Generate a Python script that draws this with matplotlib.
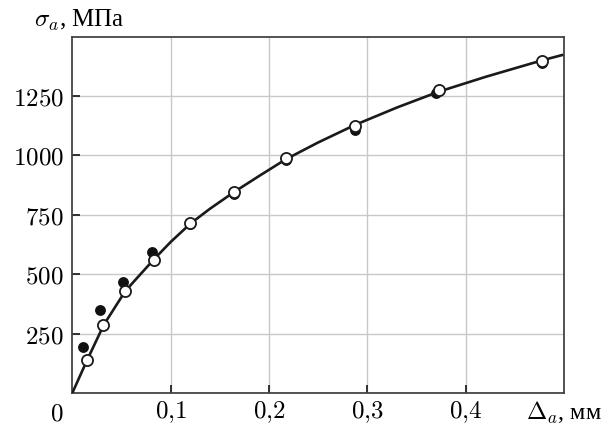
import matplotlib
matplotlib.use("Agg")
import matplotlib.pyplot as plt

# Data
curve_x = [0.0, 0.015, 0.032, 0.054, 0.083, 0.100, 0.120, 0.140, 0.164, 0.190,
           0.217, 0.250, 0.287, 0.330, 0.372, 0.420, 0.477, 0.499]
curve_y = [0, 138, 287, 430, 563, 636, 713, 776, 845, 914,
           984, 1055, 1128, 1202, 1268, 1331, 1400, 1424]

open_x = [0.0153, 0.0315, 0.0539, 0.0828, 0.1197, 0.1644, 0.2170, 0.2875, 0.3722, 0.4770]
open_y = [139, 287, 431, 562, 715, 846, 990, 1124, 1274, 1399]

filled_x = [0.0106, 0.0282, 0.0512, 0.0811, 0.1197, 0.1644, 0.2170, 0.2875, 0.3699, 0.4770]
filled_y = [194, 348, 469, 593, 712, 836, 982, 1107, 1263, 1390]

x_ticks = [0.1, 0.2, 0.3, 0.4, 0.5]
x_tick_labels = [r"$0{,}1$", r"$0{,}2$", r"$0{,}3$", r"$0{,}4$", r"$\Delta_a$, мм"]
y_ticks = [250, 500, 750, 1000, 1250]
y_tick_labels = ["$250$", "$500$", "$750$", "$1000$", "$1250$"]

plt.rcParams["mathtext.fontset"] = "cm"
plt.rcParams["font.family"] = ["Liberation Serif", "DejaVu Serif"]

fig = plt.figure(figsize=(6.07, 4.27), dpi=100)
ax = fig.add_axes([72.3 / 607, 33 / 427, (564.3 - 72.3) / 607, (394 - 37.7) / 427])

ax.set_xlim(0, 0.5)
ax.set_ylim(0, 1500)

ax.grid(True, color="#c8c8c8", linewidth=1.0)
ax.set_axisbelow(True)

ax.plot(filled_x, filled_y, "o", color="#111111", markersize=6.8, zorder=3)
ax.plot(curve_x, curve_y, "-", color="#1a1a1a", linewidth=1.9, zorder=4,
        solid_capstyle="butt", solid_joinstyle="round")
ax.plot(open_x, open_y, "o", markerfacecolor="white", markeredgecolor="#1a1a1a",
        markeredgewidth=1.3, markersize=8, zorder=5)

ax.set_xticks(x_ticks)
ax.set_xticklabels(x_tick_labels)
ax.set_yticks(y_ticks)
ax.set_yticklabels(y_tick_labels)

ax.tick_params(axis="both", direction="in", length=6, width=1.3, color="#222222",
               labelsize=18, top=False, right=False)
ax.tick_params(axis="x", pad=4)
ax.tick_params(axis="y", pad=6)

# the last x label is the axis name
ax.get_xticklabels()[-1].set_fontsize(17.5)

for s in ax.spines.values():
    s.set_color("#444444")
    s.set_linewidth(1.3)

# hide tick mark at 0.5 (coincides with right spine)
ax.xaxis.get_major_ticks()[-1].tick1line.set_visible(False)

ax.annotate("$0$", xy=(0, 0), xycoords="data", xytext=(-11, -7),
            textcoords="offset points", ha="center", va="top", fontsize=18)

fig.text(79 / 607, 1 - 20 / 427, r"$\sigma_a$, МПа", ha="center", va="center",
         fontsize=18)

fig.savefig("out.png", dpi=100)
